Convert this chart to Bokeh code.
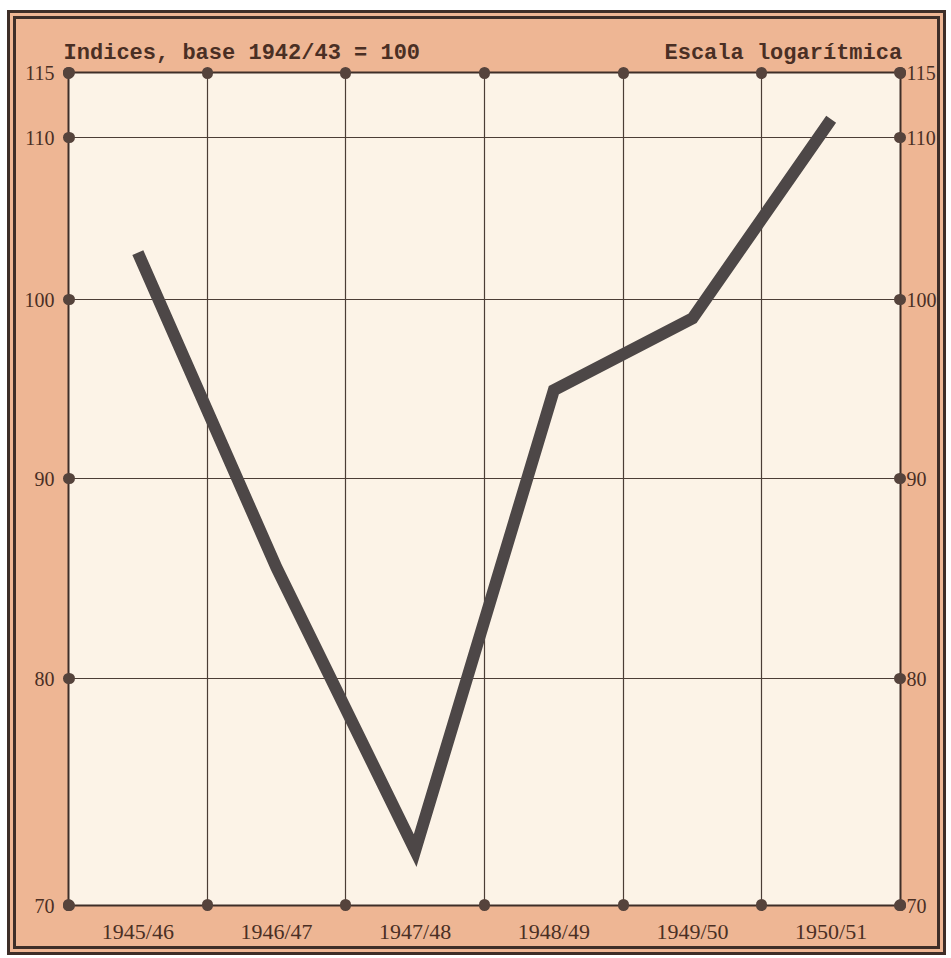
from bokeh.plotting import figure
from bokeh.models import (Range1d, FixedTicker, LogAxis, LinearAxis, Grid, BasicTickFormatter)
from bokeh.embed import file_html
from bokeh.resources import INLINE

# ---- data ----
periods = ["1945/46", "1946/47", "1947/48", "1948/49", "1949/50", "1950/51"]
index_values = [102.8, 85.4, 72.3, 94.8, 98.9, 111.2]
y_tick_labels = [70, 80, 90, 100, 110, 115]
y_bottom = 70
y_top = 114.3          # the printed top line (labelled 115) sits here on the log scale

title_left = "Indices, base 1942/43 = 100"
title_right = "Escala logarítmica"

# ---- styling ----
SALMON = "#EEB694"
CREAM = "#FCF3E7"
INK = "#4a2f24"
FRAME = "#3e2e28"
GRIDC = "#4b3d36"
LINEC = "#4d4747"
DOTC = "#55433c"

n = len(periods)
centers = [i + 0.5 for i in range(n)]
bounds = list(range(n + 1))
tick_pos = [y_top if v == 115 else v for v in y_tick_labels]
y_overrides = {pos: str(v) for pos, v in zip(tick_pos, y_tick_labels)}
x_overrides = {c: lab for c, lab in zip(centers, periods)}
# horizontal anchor (in x-axis units) of the two headings printed above the frame
head_pos = [1.25, 5.155]
head_overrides = {head_pos[0]: title_left, head_pos[1]: title_right}

# the 9px double border is drawn inside the element box
p = figure(width=939, height=945, output_backend="svg", toolbar_location=None,
           x_range=Range1d(0, n), y_range=Range1d(y_bottom, y_top), y_axis_type="log",
           min_border_left=52, min_border_right=55, min_border_top=53, min_border_bottom=59)
p.margin = (10, 0, 0, 7)
p.styles = {"border": "9px double " + FRAME, "background-color": SALMON}

p.background_fill_color = CREAM
p.border_fill_color = SALMON
p.outline_line_color = FRAME
p.outline_line_width = 2

# grids at category boundaries and y ticks
p.xgrid.visible = False
p.ygrid.visible = False
p.add_layout(Grid(dimension=0, ticker=FixedTicker(ticks=bounds),
                  grid_line_color=GRIDC, grid_line_width=1.2))
p.add_layout(Grid(dimension=1, ticker=FixedTicker(ticks=tick_pos),
                  grid_line_color=GRIDC, grid_line_width=1.2))


def dots_as_minor(ax):
    ax.minor_tick_line_color = DOTC
    ax.minor_tick_line_width = 11
    ax.minor_tick_line_cap = "round"
    ax.minor_tick_in = 1
    ax.minor_tick_out = 0


# bottom axis: period labels at centres, dots at boundaries
xa = p.xaxis[0]
xa.ticker = FixedTicker(ticks=centers, minor_ticks=bounds)
xa.formatter = BasicTickFormatter()
xa.major_label_overrides = x_overrides
xa.axis_line_color = None
xa.major_tick_line_color = None
dots_as_minor(xa)
xa.major_label_text_font = "Liberation Serif"
xa.major_label_text_font_size = "22px"
xa.major_label_text_color = INK
xa.major_label_standoff = 7

# top axis: the two headings, dots at boundaries
ta = LinearAxis(ticker=FixedTicker(ticks=head_pos, minor_ticks=bounds),
                formatter=BasicTickFormatter(), major_label_overrides=head_overrides)
ta.axis_line_color = None
ta.major_tick_line_color = None
dots_as_minor(ta)
ta.major_label_text_font = "Liberation Mono"
ta.major_label_text_font_style = "bold"
ta.major_label_text_font_size = "22px"
ta.major_label_text_color = INK
ta.major_label_standoff = 1
p.add_layout(ta, "above")


def style_y(ax, standoff):
    ax.ticker = FixedTicker(ticks=tick_pos)
    ax.formatter = BasicTickFormatter()
    ax.major_label_overrides = y_overrides
    ax.axis_line_color = None
    ax.major_tick_line_color = DOTC
    ax.major_tick_line_width = 11
    ax.major_tick_line_cap = "round"
    ax.major_tick_in = 1
    ax.major_tick_out = 0
    ax.minor_tick_line_color = None
    ax.major_label_text_font = "Liberation Serif"
    ax.major_label_text_font_size = "20px"
    ax.major_label_text_color = INK
    ax.major_label_standoff = standoff


style_y(p.yaxis[0], 14)
ra = LogAxis()
style_y(ra, 6)
p.add_layout(ra, "right")

# data line
p.line(x=centers, y=index_values, line_color=LINEC, line_width=12,
       line_join="miter", line_cap="butt")

open("out.html", "w").write(file_html(p, INLINE))
